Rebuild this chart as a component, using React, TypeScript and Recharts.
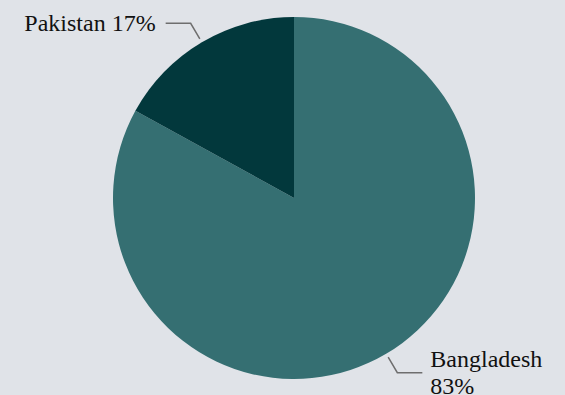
import { useEffect } from "react";
import { PieChart, Pie, Cell } from "recharts";

const COUNTRIES = ["Bangladesh", "Pakistan"];
const SHARES = [83, 17];
const SLICE_COLORS = ["#356f72", "#02383c"];

const WIDTH = 565;
const HEIGHT = 395;
const FONT_SIZE = 24;
const RADIAN = Math.PI / 180;

const data = COUNTRIES.map((name, i) => ({ name, value: SHARES[i] }));

function renderLabel(props: any) {
  const { cx, cy, midAngle, outerRadius, name, percent } = props;
  const cos = Math.cos(-midAngle * RADIAN);
  const sin = Math.sin(-midAngle * RADIAN);
  const sx = cx + (outerRadius + 4) * cos;
  const sy = cy + (outerRadius + 4) * sin;
  const mx = cx + (outerRadius + 22) * cos;
  const my = cy + (outerRadius + 22) * sin;
  const right = cos >= 0;
  const ex = mx + (right ? 25 : -25);
  const tx = ex + (right ? 8 : -10);
  const pct = `${Math.round(percent * 100)}%`;
  const full = `${name} ${pct}`;
  const estWidth = full.length * FONT_SIZE * 0.52;
  const room = right ? WIDTH - tx : tx;
  const lines = estWidth > room ? [name, pct] : [full];
  const lh = 27;
  const startY = my - ((lines.length - 1) * lh) / 2;
  return (
    <g>
      <polyline
        points={`${sx},${sy} ${mx},${my} ${ex},${my}`}
        fill="none"
        stroke="#6e6e6e"
        strokeWidth={1.5}
      />
      <text
        x={tx}
        y={startY}
        textAnchor={right ? "start" : "end"}
        dominantBaseline="central"
        fill="#111"
        fontSize={FONT_SIZE}
        fontFamily="'Liberation Serif', 'Times New Roman', serif"
      >
        {lines.map((l, i) => (
          <tspan key={l} x={tx} dy={i === 0 ? 0 : lh}>
            {l}
          </tspan>
        ))}
      </text>
    </g>
  );
}

export default function App() {
  useEffect(() => {
    document.body.style.margin = "0";
  }, []);
  return (
    <div style={{ width: WIDTH, height: HEIGHT, background: "#e0e3e8" }}>
      <PieChart
        width={WIDTH}
        height={HEIGHT}
        margin={{ top: 0, right: 0, bottom: 0, left: 0 }}
      >
        <Pie
          data={data}
          dataKey="value"
          nameKey="name"
          cx={294}
          cy={198}
          outerRadius={181}
          startAngle={90}
          endAngle={-270}
          stroke="none"
          label={renderLabel}
          labelLine={false}
          isAnimationActive={false}
        >
          {data.map((d, i) => (
            <Cell key={d.name} fill={SLICE_COLORS[i]} />
          ))}
        </Pie>
      </PieChart>
    </div>
  );
}
